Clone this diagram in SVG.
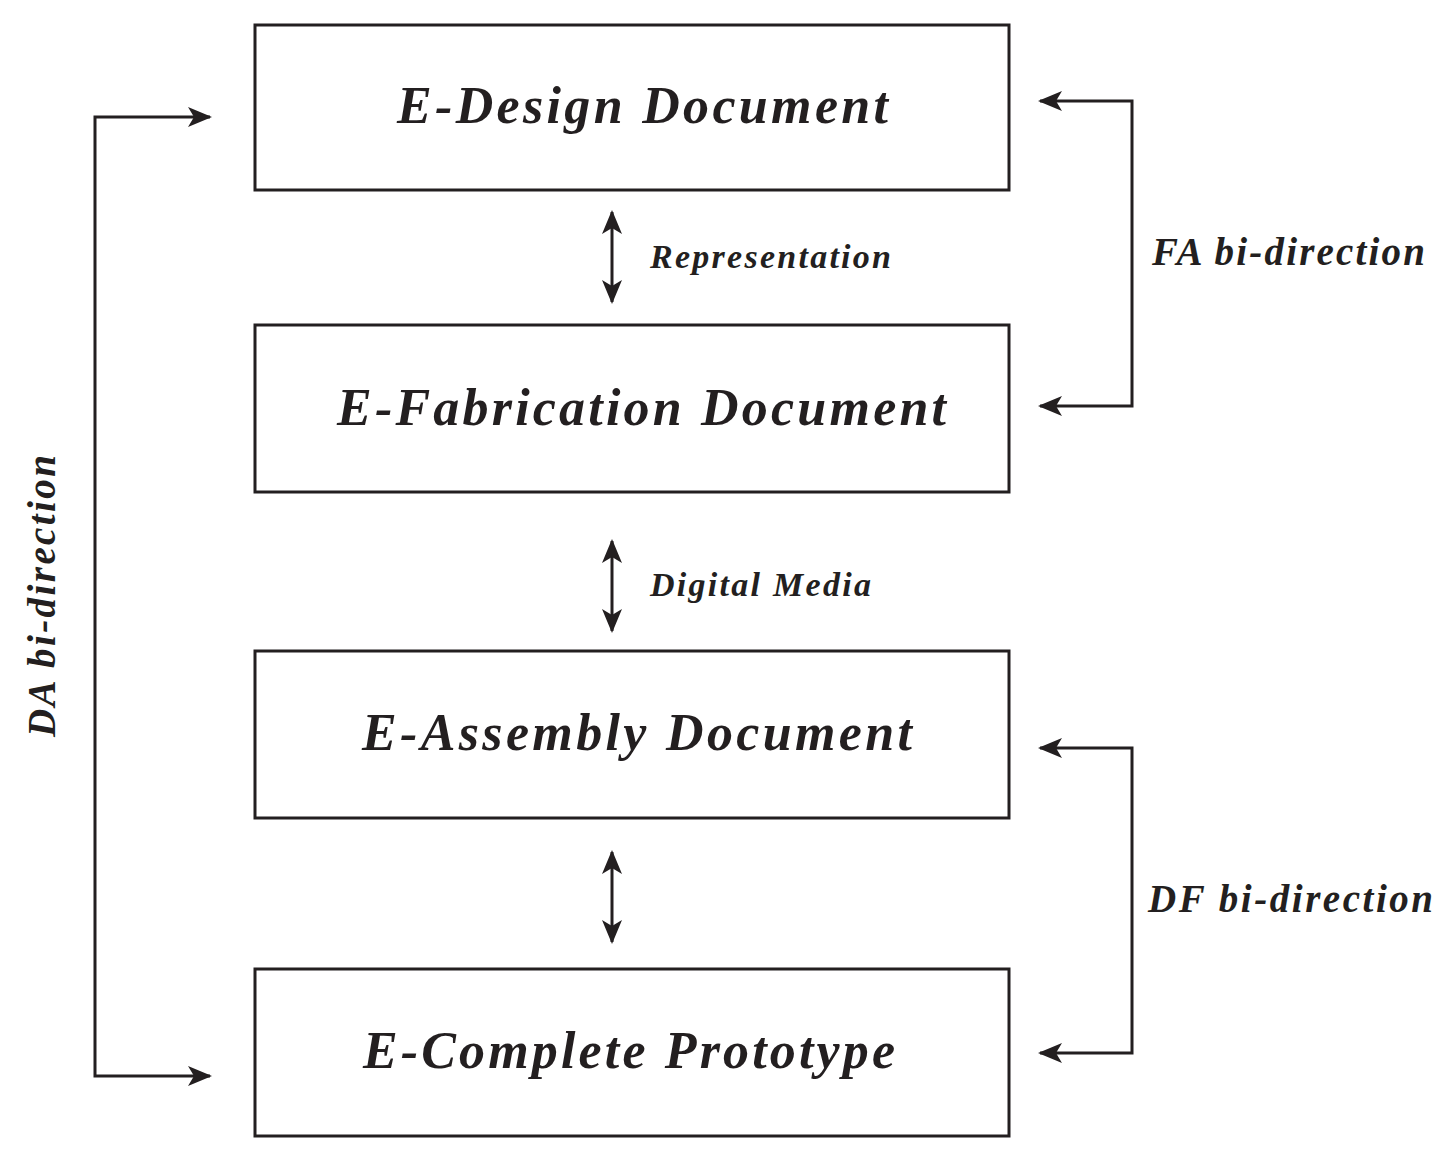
<svg xmlns="http://www.w3.org/2000/svg" width="1451" height="1155" viewBox="0 0 1451 1155">
<style>
.box{fill:#fff;stroke:#231f20;stroke-width:3}
.t{font-family:"Liberation Serif",serif;font-weight:bold;font-style:italic;fill:#231f20}
.big{font-size:52px}
.sm{font-size:34px}
.md{font-size:39px}
.c{fill:none;stroke:#231f20;stroke-width:3}
</style>
<defs>
<marker id="a" viewBox="0 0 24 20" refX="22" refY="10" markerWidth="24" markerHeight="20" markerUnits="userSpaceOnUse" orient="auto-start-reverse">
<path d="M0,0 L24,10 L0,20 L6,10 z" fill="#231f20"/>
</marker>
</defs>
<rect width="1451" height="1155" fill="#fff"/>
<g id="n1"><rect class="box" x="255" y="25" width="754" height="165"/><text class="t big" x="397" y="123" textLength="491" lengthAdjust="spacing">E-Design Document</text></g>
<g id="n2"><rect class="box" x="255" y="325" width="754" height="167"/><text class="t big" x="337" y="425" textLength="609" lengthAdjust="spacing">E-Fabrication Document</text></g>
<g id="n3"><rect class="box" x="255" y="651" width="754" height="167"/><text class="t big" x="362" y="750" textLength="550" lengthAdjust="spacing">E-Assembly Document</text></g>
<g id="n4"><rect class="box" x="255" y="969" width="754" height="167"/><text class="t big" x="363" y="1068" textLength="532" lengthAdjust="spacing">E-Complete Prototype</text></g>
<g id="connectors">
<line class="c" x1="612" y1="212" x2="612" y2="302" marker-start="url(#a)" marker-end="url(#a)"/>
<line class="c" x1="612" y1="541" x2="612" y2="631" marker-start="url(#a)" marker-end="url(#a)"/>
<line class="c" x1="612" y1="852" x2="612" y2="942" marker-start="url(#a)" marker-end="url(#a)"/>
<polyline class="c" points="1040,101 1132,101 1132,406 1040,406" marker-start="url(#a)" marker-end="url(#a)"/>
<polyline class="c" points="1040,748 1132,748 1132,1053 1040,1053" marker-start="url(#a)" marker-end="url(#a)"/>
<polyline class="c" points="210,117 95,117 95,1076 210,1076" marker-start="url(#a)" marker-end="url(#a)"/>
<text class="t sm" x="650" y="268" textLength="241" lengthAdjust="spacing">Representation</text>
<text class="t sm" x="650" y="596" textLength="221" lengthAdjust="spacing">Digital Media</text>
<text class="t md" x="1152" y="265" textLength="273" lengthAdjust="spacing">FA bi-direction</text>
<text class="t md" x="1148" y="912" textLength="285" lengthAdjust="spacing">DF bi-direction</text>
<text class="t md" transform="translate(55,737) rotate(-90)" textLength="282" lengthAdjust="spacing">DA bi-direction</text>
</g>
</svg>
